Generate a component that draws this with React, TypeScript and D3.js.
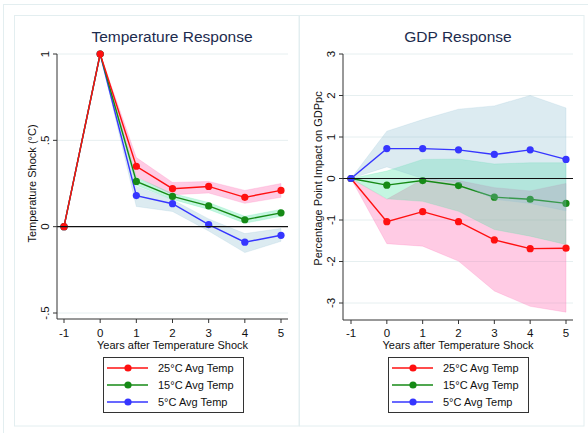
import React from "react";
import * as d3 from "d3";

// Horizon: years after the temperature shock
const years = [-1, 0, 1, 2, 3, 4, 5];

// Temperature response (°C) by average temperature, with confidence bounds
const temp25 = [0, 1, 0.35, 0.22, 0.233, 0.17, 0.21];
const temp25Lo = [0, 1, 0.29, 0.185, 0.195, 0.135, 0.17];
const temp25Hi = [0, 1, 0.4, 0.256, 0.262, 0.21, 0.25];
const temp15 = [0, 1, 0.262, 0.175, 0.12, 0.04, 0.08];
const temp15Lo = [0, 1, 0.24, 0.158, 0.1, 0.02, 0.06];
const temp15Hi = [0, 1, 0.285, 0.192, 0.14, 0.06, 0.1];
const temp5 = [0, 1, 0.18, 0.133, 0.012, -0.09, -0.05];
const temp5Lo = [0, 1, 0.117, 0.088, -0.025, -0.15, -0.085];
const temp5Hi = [0, 1, 0.233, 0.156, 0.045, -0.04, -0.01];

// GDP per capita response (percentage points), with confidence bounds
const gdp25 = [0, -1.04, -0.8, -1.04, -1.48, -1.69, -1.68];
const gdp25Lo = [0, -1.57, -1.63, -1.99, -2.71, -3.08, -3.22];
const gdp25Hi = [0, -0.5, -0.02, -0.05, -0.22, -0.3, -0.12];
const gdp15 = [0, -0.16, -0.05, -0.17, -0.45, -0.5, -0.6];
const gdp15Lo = [0, -0.49, -0.55, -0.79, -1.23, -1.39, -1.59];
const gdp15Hi = [0, 0.18, 0.46, 0.47, 0.35, 0.38, 0.38];
const gdp5 = [0, 0.72, 0.72, 0.69, 0.58, 0.69, 0.46];
const gdp5Lo = [0, 0.28, 0.0, -0.1, -0.5, -0.6, -0.78];
const gdp5Hi = [0, 1.14, 1.42, 1.67, 1.75, 2.0, 1.7];

const tempTicks = [-0.5, 0, 0.5, 1];
const tempTickLabels = ["-.5", "0", ".5", "1"];
const gdpTicks = [-3, -2, -1, 0, 1, 2, 3];
const gdpTickLabels = ["-3", "-2", "-1", "0", "1", "2", "3"];

const legendLabels = ["25°C Avg Temp", "15°C Avg Temp", "5°C Avg Temp"];

const FONT = "'Liberation Sans', Arial, Helvetica, sans-serif";
const lineColors = ["#ff1010", "#168a16", "#3636ff"];
const bandColors = [
  "rgba(255,110,180,0.36)",
  "rgba(60,225,155,0.3)",
  "rgba(140,190,210,0.3)",
];
const gridColor = "#e6eff0";
const frameColor = "#e3eef0";

type Series = { mid: number[]; lo: number[]; hi: number[] };

type PanelProps = {
  title: string;
  titleX: number;
  yLabel: string;
  yLabelX: number;
  tickLabelX: number;
  axisX: number;
  plotRight: number;
  xRange: [number, number];
  yDomain: [number, number];
  yRange: [number, number];
  axisY: number;
  ticks: number[];
  tickLabels: string[];
  series: Series[];
  legendX: number;
  layered: boolean;
};

function Panel(p: PanelProps) {
  const x = d3.scaleLinear().domain([-1, 5]).range(p.xRange);
  const y = d3.scaleLinear().domain(p.yDomain).range(p.yRange);
  const line = d3
    .line<number>()
    .x((_, i) => x(years[i]))
    .y((d) => y(d));
  const area = (s: Series) =>
    d3
      .area<number>()
      .x((i) => x(years[i]))
      .y0((i) => y(s.lo[i]))
      .y1((i) => y(s.hi[i]))(years.map((_, i) => i)) || "";

  const yMid = (p.yRange[0] + p.yRange[1]) / 2;
  const xMid = (p.axisX + p.plotRight) / 2;

  const band = (s: Series, k: number) => (
    <path key={"b" + k} d={area(s)} fill={bandColors[k]} stroke={bandColors[k]} strokeWidth={0.6} />
  );
  const trace = (s: Series, k: number) => (
    <g key={"l" + k}>
      <path d={line(s.mid) || ""} fill="none" stroke={lineColors[k]} strokeWidth={1.4} />
      {s.mid.map((v, i) => (
        <circle key={i} cx={x(years[i])} cy={y(v)} r={3.6} fill={lineColors[k]} />
      ))}
    </g>
  );

  return (
    <g>
      <text x={p.titleX} y={42} textAnchor="middle" fontSize={15.5} fill="#1c2b4e" fontFamily={FONT}>
        {p.title}
      </text>

      {/* gridlines */}
      {p.ticks
        .filter((t) => t !== 0)
        .map((t) => (
          <line key={"g" + t} x1={p.axisX} x2={p.plotRight} y1={y(t)} y2={y(t)} stroke={gridColor} />
        ))}

      {/* confidence bands and response lines */}
      {p.layered
        ? p.series.map((s, k) => (
            <g key={"s" + k}>
              {band(s, k)}
              {trace(s, k)}
            </g>
          ))
        : [
            ...p.series.map((s, k) => band(s, k)),
            ...p.series.map((s, k) => trace(s, k)).reverse(),
          ]}

      {/* zero reference line */}
      <line x1={p.axisX} x2={p.plotRight} y1={y(0)} y2={y(0)} stroke="#111" strokeWidth={1.2} />

      {/* y axis */}
      <line x1={p.axisX} x2={p.axisX} y1={y(p.yDomain[1])} y2={p.axisY} stroke="#333" />
      {p.ticks.map((t, i) => (
        <g key={"yt" + t}>
          <line x1={p.axisX - 4} x2={p.axisX} y1={y(t)} y2={y(t)} stroke="#333" />
          <text
            transform={`translate(${p.tickLabelX},${y(t)}) rotate(-90)`}
            textAnchor="middle"
            fontSize={11.5}
            fill="#111"
            fontFamily={FONT}
          >
            {p.tickLabels[i]}
          </text>
        </g>
      ))}
      <text
        transform={`translate(${p.yLabelX},${yMid}) rotate(-90)`}
        textAnchor="middle"
        fontSize={11}
        fill="#111"
        fontFamily={FONT}
      >
        {p.yLabel}
      </text>

      {/* x axis */}
      <line x1={p.axisX} x2={p.plotRight} y1={p.axisY} y2={p.axisY} stroke="#333" />
      {years.map((t) => (
        <g key={"xt" + t}>
          <line x1={x(t)} x2={x(t)} y1={p.axisY} y2={p.axisY + 4} stroke="#333" />
          <text x={x(t)} y={337} textAnchor="middle" fontSize={11.5} fill="#111" fontFamily={FONT}>
            {t}
          </text>
        </g>
      ))}
      <text x={xMid} y={349} textAnchor="middle" fontSize={11} fill="#111" fontFamily={FONT}>
        Years after Temperature Shock
      </text>

      {/* legend */}
      <g transform={`translate(${p.legendX},357)`}>
        <rect x={0.5} y={0.5} width={140} height={55} fill="#fff" stroke="#333" />
        {legendLabels.map((lab, k) => (
          <g key={lab} transform={`translate(0,${11 + k * 17})`}>
            <line x1={4} x2={45} y1={0} y2={0} stroke={lineColors[k]} strokeWidth={1.4} />
            <circle cx={25} cy={0} r={3.6} fill={lineColors[k]} />
            <text x={55} y={4} fontSize={11} fill="#111" fontFamily={FONT}>
              {lab}
            </text>
          </g>
        ))}
      </g>
    </g>
  );
}

export default function App() {
  const tempSeries: Series[] = [
    { mid: temp25, lo: temp25Lo, hi: temp25Hi },
    { mid: temp15, lo: temp15Lo, hi: temp15Hi },
    { mid: temp5, lo: temp5Lo, hi: temp5Hi },
  ];
  const gdpSeries: Series[] = [
    { mid: gdp25, lo: gdp25Lo, hi: gdp25Hi },
    { mid: gdp15, lo: gdp15Lo, hi: gdp15Hi },
    { mid: gdp5, lo: gdp5Lo, hi: gdp5Hi },
  ];
  return (
    <svg width={588} height={433} style={{ position: "absolute", left: 0, top: 0, background: "#fff" }}>
      {/* outer frame and panel frames */}
      <rect x={3.5} y={4.5} width={600} height={440} fill="none" stroke={frameColor} />
      <rect x={14.5} y={15.5} width={284.5} height={410.5} fill="#fff" stroke={frameColor} />
      <rect x={299.5} y={15.5} width={284.5} height={410.5} fill="#fff" stroke={frameColor} />

      <Panel
        title="Temperature Response"
        titleX={172}
        yLabel="Temperature Shock (°C)"
        yLabelX={36}
        tickLabelX={49}
        axisX={57}
        plotRight={288}
        xRange={[64, 281]}
        yDomain={[-0.5, 1]}
        yRange={[313, 54]}
        axisY={319}
        ticks={tempTicks}
        tickLabels={tempTickLabels}
        series={tempSeries}
        legendX={103}
        layered={false}
      />
      <Panel
        title="GDP Response"
        titleX={458}
        yLabel="Percentage Point Impact on GDPpc"
        yLabelX={322}
        tickLabelX={335}
        axisX={343}
        plotRight={573}
        xRange={[351, 566]}
        yDomain={[-3, 3]}
        yRange={[303, 54]}
        axisY={320}
        ticks={gdpTicks}
        tickLabels={gdpTickLabels}
        series={gdpSeries}
        legendX={388}
        layered={true}
      />
    </svg>
  );
}
